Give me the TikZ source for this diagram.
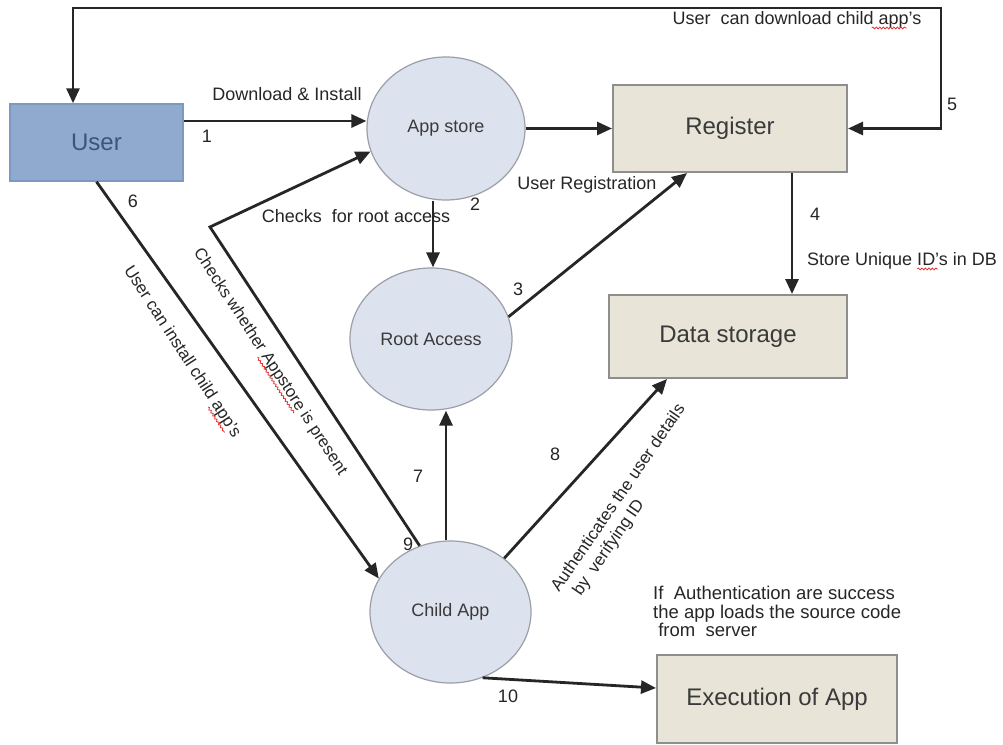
\documentclass[tikz,border=0pt]{standalone}
\usepackage{fontspec}
\setmainfont{Liberation Sans}
\usetikzlibrary{arrows.meta,shapes.geometric,calc,decorations.pathmorphing}
\definecolor{linec}{HTML}{262626}
\definecolor{userfill}{HTML}{8FAACE}
\definecolor{userdraw}{HTML}{7E99BF}
\definecolor{usertext}{HTML}{3A5577}
\definecolor{ellfill}{HTML}{DDE3EE}
\definecolor{elldraw}{HTML}{9C9EA8}
\definecolor{boxfill}{HTML}{E8E4D7}
\definecolor{boxdraw}{HTML}{8E8E8E}
\definecolor{titletext}{HTML}{3A3A3A}
\definecolor{spell}{HTML}{E03030}
\tikzset{
  proc/.style={ellipse, draw=elldraw, fill=ellfill, line width=1.2pt, inner sep=0pt,
    font=\fontsize{18}{20}\selectfont, text=titletext},
  store/.style={rectangle, draw=boxdraw, fill=boxfill, line width=2pt, inner sep=0pt,
    font=\fontsize{24}{28}\selectfont, text=titletext},
  arr/.style={draw=linec, line width=2.8pt, -{Triangle[length=15pt,width=13pt]}},
  lbl/.style={inner sep=0pt, font=\fontsize{18}{20}\selectfont, text=black!85},
  rlbl/.style={inner sep=0pt, font=\fontsize{17}{20}\selectfont, text=black!85},
  squiggle/.style={draw=spell, line width=0.8pt, decorate,
    decoration={snake, amplitude=0.9pt, segment length=3.5pt}},
}
\begin{document}
\begin{tikzpicture}[x=1pt,y=-1pt]
\useasboundingbox[fill=white] (0,0) rectangle (1003,744);

% nodes
\node[rectangle, draw=userdraw, fill=userfill, line width=1.5pt, minimum width=173pt, minimum height=77pt,
  font=\fontsize{24}{28}\selectfont, text=usertext] (user) at (96.5,142.5) {User};
\node[proc, minimum width=158pt, minimum height=143pt] (appstore) at (446,128.5) {App store};
\node[store, minimum width=234pt, minimum height=87pt] (register) at (730,128.5) {Register};
\node[proc, minimum width=162pt, minimum height=142pt] (root) at (431,339) {Root Access};
\node[store, minimum width=238pt, minimum height=83pt] (data) at (728,336.5) {Data storage};
\node[proc, minimum width=161pt, minimum height=142pt] (child) at (450.5,612) {Child App};
\node[store, minimum width=240pt, minimum height=88pt] (exec) at (777,699) {Execution of App};

\coordinate (tr) at (941,8);
\coordinate (bend) at (210,227);

% connectors
\draw[arr] ([yshift=21.5pt]user.east) -- ([yshift=21.5pt]user.east -| appstore.west);
\draw[arr] (appstore) -- (register);
\draw[arr] ([xshift=-13pt]appstore.south) -- ([xshift=-13pt]appstore.south |- root.north);
\draw[arr] (root.16) -- ([xshift=-43pt]register.south);
\draw[arr] ([xshift=62pt]register.south) -- ([xshift=62pt]register.south |- data.north);
\draw[draw=linec, line width=2.8pt, {Triangle[length=15pt,width=13pt]}-{Triangle[length=15pt,width=13pt]}]
  (register.east) -| (tr) -| ([xshift=-23.5pt]user.north);
\draw[arr] (user.south) -- (child.155);
\draw[arr] (child.115) -- (bend) -- (appstore.197);
\draw[arr] ([xshift=-4.5pt]child.north) -- ([xshift=-4.5pt]child.north |- root.south);
\draw[arr] (child.45) -- ([xshift=-61pt]data.south);
\draw[arr] (child.-64) -- ([yshift=11pt]exec.west);

% labels
\node[lbl, anchor=base] (l5t) at (797,24) {User\ \ can download child app's};
\node[lbl, anchor=base] (l1t) at (287,100) {Download \& Install};
\node[lbl, anchor=base] (n1) at (207,142) {1};
\node[lbl, anchor=base] (l2t) at (356,222) {Checks\ \ for root access};
\node[lbl, anchor=base] (n2) at (475,210) {2};
\node[lbl, anchor=base] (l3t) at (587,189) {User Registration};
\node[lbl, anchor=base] (n3) at (518,295) {3};
\node[lbl, anchor=base] (n4) at (815,220) {4};
\node[lbl, anchor=base west] (l4t) at (807,265) {Store Unique ID's in DB};
\node[lbl, anchor=base] (n5) at (952,110) {5};
\node[lbl, anchor=base] (n6) at (133,207) {6};
\node[lbl, anchor=base] (n7) at (418,482) {7};
\node[lbl, anchor=base] (n8) at (555,460) {8};
\node[lbl, anchor=base] (n9) at (408,550) {9};
\node[lbl, anchor=base] (n10) at (508,702) {10};
\node[rlbl, rotate=-57] (l6t) at (182,352) {User can install child app's};
\node[rlbl, rotate=-56.8, font=\fontsize{16.6}{20}\selectfont] (l9t) at (270,362) {Checks whether Appstore is present};
\node[rlbl, rotate=55.5, align=left] (l8t) at (627,504)
  {Authenticates the user details\\\hspace{9pt}by\ \ verifying ID};
\node[lbl, anchor=north west, align=left, font=\fontsize{18.5}{18.5}\selectfont] (l10t) at (653,586)
  {If\ \ Authentication are success\\the app loads the source code\\\ from\ \ server};

% spell-check marks
\draw[squiggle] ($(l5t.south west)!0.80!(l5t.south east)$) -- ($(l5t.south west)!0.94!(l5t.south east)$);
\draw[squiggle] ($(l4t.south west)!0.58!(l4t.south east)$) -- ($(l4t.south west)!0.69!(l4t.south east)$);
\draw[squiggle] ($(l6t.south west)!0.80!(l6t.south east)$) -- ($(l6t.south west)!0.95!(l6t.south east)$);
\draw[squiggle] ($(l9t.south west)!0.46!(l9t.south east)$) -- ($(l9t.south west)!0.71!(l9t.south east)$);
\end{tikzpicture}
\end{document}
